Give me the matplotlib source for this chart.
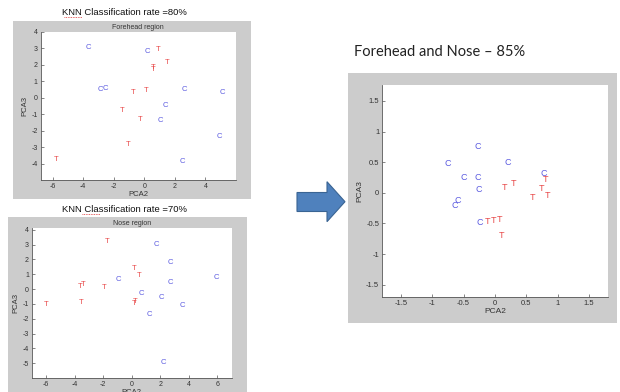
#!/usr/bin/env python

import matplotlib as mpl
mpl.use('Agg')
import matplotlib.pyplot as plt
from matplotlib.patches import Rectangle, Polygon

# forehead region (PCA2, PCA3)
fh_c_x = [-3.66, 0.17, -2.90, -2.57, 2.64, 5.13, 1.39, 1.06, 4.94, 2.49]
fh_c_y = [3.05, 2.81, 0.47, 0.57, 0.51, 0.31, -0.50, -1.40, -2.35, -3.90]
fh_t_x = [0.89, 1.52, 0.56, 0.56, -0.75, 0.12, -1.45, -0.25, -1.06, -5.76]
fh_t_y = [2.95, 2.16, 1.84, 1.68, 0.33, 0.43, -0.80, -1.30, -2.85, -3.76]

# nose region
nose_c_x = [1.76, 2.73, -0.95, 5.95, 2.69, 0.67, 2.11, 3.54, 1.25, 2.22]
nose_c_y = [3.00, 1.82, 0.65, 0.76, 0.42, -0.29, -0.60, -1.11, -1.69, -4.96]
nose_t_x = [-1.72, 0.14, 0.49, -3.61, -3.41, -1.90, -5.98, -3.57, 0.21, 0.16]
nose_t_y = [3.18, 1.38, 0.91, 0.16, 0.29, 0.11, -1.04, -0.91, -0.87, -0.98]

# forehead and nose combined
both_c_x = [-0.28, -0.75, 0.20, -0.50, -0.28, -0.26, -0.59, -0.64, -0.25, 0.77]
both_c_y = [0.76, 0.48, 0.49, 0.25, 0.25, 0.06, -0.13, -0.21, -0.48, 0.32]
both_t_x = [0.15, 0.29, 0.81, 0.74, 0.59, 0.83, -0.12, -0.03, 0.07, 0.11]
both_t_y = [0.08, 0.16, 0.21, 0.07, -0.08, -0.05, -0.47, -0.45, -0.43, -0.70]

W, H = 620, 392
gray = '#cccccc'
col_c = '#5a5ae0'
col_t = '#e84848'
font = ['Liberation Sans', 'DejaVu Sans']


def px(l, t, r, b):
    # pixel box -> figure fraction [left, bottom, width, height]
    return [l / W, 1 - b / H, (r - l) / W, (b - t) / H]


def scatter_panel(fig, box, cx, cy, tx, ty, xlim, ylim, xticks, yticks,
                  subtitle=None, fs_tick=5, fs_mark=5.5):
    ax = fig.add_axes(px(*box))
    ax.set_facecolor('white')
    for x, y in zip(cx, cy):
        ax.text(x, y, 'C', color=col_c, fontsize=fs_mark, ha='center',
                va='center', family=font)
    for x, y in zip(tx, ty):
        ax.text(x, y, 'T', color=col_t, fontsize=fs_mark, ha='center',
                va='center', family=font)
    ax.set_xlim(xlim)
    ax.set_ylim(ylim)
    ax.set_xticks(xticks)
    ax.set_yticks(yticks)
    ax.set_xticklabels([('%g' % v) for v in xticks], family=font)
    ax.set_yticklabels([('%g' % v) for v in yticks], family=font)
    ax.tick_params(direction='in', length=2, width=0.5, colors='#555555',
                   labelsize=fs_tick, labelcolor='#333333', pad=2)
    for s in ['top', 'right']:
        ax.spines[s].set_visible(False)
    for s in ['left', 'bottom']:
        ax.spines[s].set_linewidth(0.6)
        ax.spines[s].set_color('#555555')
    ax.set_xlabel('PCA2', fontsize=fs_tick + 0.5, family=font,
                  color='#333333', labelpad=1)
    ax.set_ylabel('PCA3', fontsize=fs_tick + 0.5, family=font,
                  color='#333333', labelpad=2)
    if subtitle:
        ax.set_title(subtitle, fontsize=fs_tick, family=font,
                     color='#333333', pad=2)
    return ax


fig = plt.figure(figsize=(W / 100, H / 100), dpi=100)

# background layer in pixel coords (gray matlab figure windows, arrow)
bg = fig.add_axes([0, 0, 1, 1], zorder=-1)
bg.set_xlim(0, W)
bg.set_ylim(H, 0)
bg.axis('off')
bg.add_patch(Rectangle((13, 21), 237.5, 178, color=gray, lw=0))
bg.add_patch(Rectangle((8, 216.5), 238.5, 180, color=gray, lw=0))
bg.add_patch(Rectangle((348, 73), 269, 250, color=gray, lw=0))

# titles
bg.text(124, 12, 'KNN Classification rate =80%', fontsize=6.8, ha='center',
        va='center', family=font, color='#111111')
bg.text(124, 209.5, 'KNN Classification rate =70%', fontsize=6.8,
        ha='center', va='center', family=font, color='#111111')
bg.plot([64, 82], [16.5, 16.5], color='#dd3333', lw=0.6, ls=(0, (1, 1)))
bg.plot([82, 100], [213.5, 213.5], color='#dd3333', lw=0.6, ls=(0, (1, 1)))
bg.text(354, 52, 'Forehead and Nose \u2013 85%', fontsize=10.5, ha='left',
        va='center', family=['Lato', 'DejaVu Sans'], color='#222222')

# arrow
arrow = Polygon([(297, 192.5), (327, 192.5), (327, 181.7), (345, 201.7),
                 (327, 221.7), (327, 211.5), (297, 211.5)],
                closed=True, facecolor='#4f81bd', edgecolor='#3a6493', lw=0.8)
bg.add_patch(arrow)

scatter_panel(fig, (40.5, 31.7, 236, 180), fh_c_x, fh_c_y, fh_t_x, fh_t_y,
              xlim=[-6.8, 6], ylim=[-5, 4], xticks=[-6, -4, -2, 0, 2, 4],
              yticks=list(range(-4, 5)), subtitle='Forehead region')

scatter_panel(fig, (31.7, 227.5, 231.7, 378), nose_c_x, nose_c_y, nose_t_x,
              nose_t_y, xlim=[-7, 7], ylim=[-6, 4.15],
              xticks=[-6, -4, -2, 0, 2, 4, 6], yticks=list(range(-5, 5)),
              subtitle='Nose region')

scatter_panel(fig, (382, 85, 608, 297), both_c_x, both_c_y, both_t_x,
              both_t_y, xlim=[-1.8, 1.8], ylim=[-1.7, 1.76],
              xticks=[-1.5, -1, -0.5, 0, 0.5, 1, 1.5],
              yticks=[-1.5, -1, -0.5, 0, 0.5, 1, 1.5],
              fs_tick=5.5, fs_mark=6.5)

fig.savefig('out.png', dpi=100)
